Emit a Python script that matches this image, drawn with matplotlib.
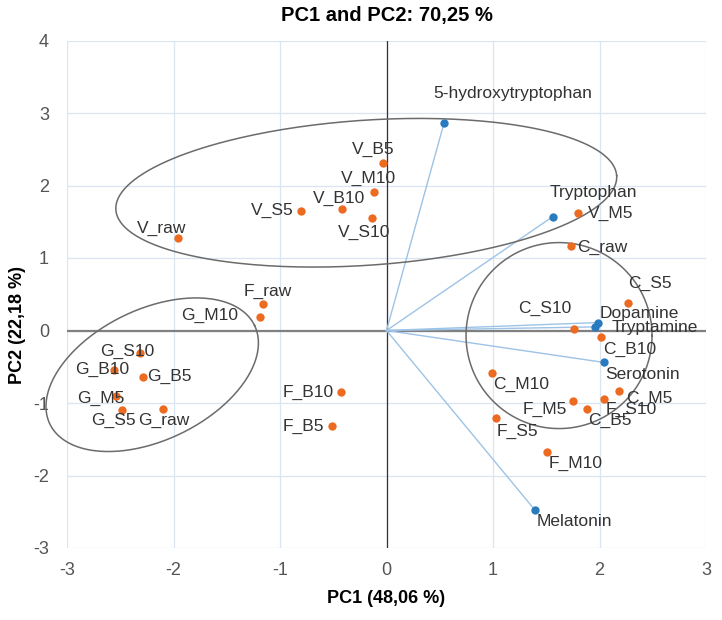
import numpy as np
import matplotlib
matplotlib.use('Agg')
import matplotlib.pyplot as plt

# scores (samples)
samples = ['V_raw', 'V_S5', 'V_B10', 'V_M10', 'V_S10', 'V_B5', 'V_M5',
           'F_raw', 'G_M10', 'G_S10', 'G_B10', 'G_B5', 'G_M5', 'G_S5', 'G_raw',
           'F_B10', 'F_B5',
           'C_raw', 'C_S5', 'C_S10', 'C_B10', 'C_M10', 'C_M5', 'F_S10',
           'F_M5', 'C_B5', 'F_S5', 'F_M10']
pc1_s = [-1.96, -0.80, -0.42, -0.12, -0.14, -0.03, 1.80,
         -1.16, -1.19, -2.31, -2.56, -2.29, -2.54, -2.48, -2.10,
         -0.43, -0.51,
         1.73, 2.27, 1.76, 2.01, 0.99, 2.18, 2.04,
         1.75, 1.88, 1.03, 1.51]
pc2_s = [1.27, 1.65, 1.67, 1.91, 1.55, 2.31, 1.62,
         0.37, 0.18, -0.31, -0.54, -0.64, -0.91, -1.09, -1.08,
         -0.85, -1.32,
         1.16, 0.38, 0.02, -0.09, -0.58, -0.84, -0.94,
         -0.97, -1.08, -1.21, -1.68]

# loadings (compounds)
compounds = ['5-hydroxytryptophan', 'Tryptophan', 'Dopamine', 'Tryptamine',
             'Serotonin', 'Melatonin']
pc1_l = [0.54, 1.56, 1.99, 1.96, 2.04, 1.39]
pc2_l = [2.86, 1.57, 0.11, 0.05, -0.44, -2.47]

# label offsets in pixels (dx, dy), text centred
off_s = {'V_raw': (-16, 10), 'V_S5': (-29, 0), 'V_B10': (-3, 11), 'V_M10': (-5, 14),
         'V_S10': (-7, -14), 'V_B5': (-10, 14), 'V_M5': (32, 0),
         'F_raw': (5, 12), 'G_M10': (-50, 2), 'G_S10': (-13, 2), 'G_B10': (-12, 0),
         'G_B5': (27, 0), 'G_M5': (-15, -2), 'G_S5': (-9, -11), 'G_raw': (1, -12),
         'F_B10': (-33, 0), 'F_B5': (-29, 0),
         'C_raw': (32, -1), 'C_S5': (22, 20), 'C_S10': (-29, 21), 'C_B10': (29, -12),
         'C_M10': (29, -12), 'C_M5': (31, -7), 'F_S10': (27, -11),
         'F_M5': (-28, -9), 'C_B5': (23, -12), 'F_S5': (21, -13), 'F_M10': (28, -11)}
off_l = {'5-hydroxytryptophan': (69, 30), 'Tryptophan': (41, 24), 'Dopamine': (41, 9),
         'Tryptamine': (60, -1), 'Serotonin': (39, -12), 'Melatonin': (40, -12)}

# group ellipses: centre (data), semi axes (px), angle (deg)
ellipses = [(-0.19, 1.90, 251, 72.5, 3.9),
            (-2.20, -0.61, 113.6, 65.4, 25.7),
            (1.62, -0.07, 93, 93, 0)]

plt.rcParams['font.family'] = ['Liberation Sans', 'DejaVu Sans']
plt.rcParams['axes.unicode_minus'] = False

W, H = 722, 620
fig = plt.figure(figsize=(W / 100, H / 100), dpi=100)
ax = fig.add_axes([67 / W, (H - 548) / H, 639 / W, 507.5 / H])
ax.set_xlim(-3, 3)
ax.set_ylim(-3, 4)
ax.set_xticks(range(-3, 4))
ax.set_yticks(range(-3, 5))
ax.grid(color='#dae5f1', lw=0.9)
ax.set_axisbelow(True)
for s in ax.spines.values():
    s.set_visible(False)
ax.tick_params(length=0, labelsize=13, labelcolor='#555555')
ax.tick_params(axis='x', pad=10)
ax.tick_params(axis='y', pad=13)
ax.axhline(0, color='#808080', lw=1.6, zorder=1)
ax.axvline(0, color='#333333', lw=0.9, zorder=1)

# loading vectors
for x, y in zip(pc1_l, pc2_l):
    ax.plot([0, x], [0, y], color='#9dc3e6', lw=1.0, zorder=2)

# ellipses
sx = 639 / 6.0
sy = 507.5 / 7.0
t = np.linspace(0, 2 * np.pi, 300)
for cx, cy, a, b, ang in ellipses:
    al = np.radians(ang)
    dx = a * np.cos(t) * np.cos(al) - b * np.sin(t) * np.sin(al)
    dy = a * np.cos(t) * np.sin(al) + b * np.sin(t) * np.cos(al)
    ax.plot(cx + dx / sx, cy + dy / sy, color='#6b6b6b', lw=1.1, zorder=3, clip_on=False)

ax.plot(pc1_s, pc2_s, 'o', color='#ed6b21', ms=6, mec='none', zorder=4)
ax.plot(pc1_l, pc2_l, 'o', color='#2a7ac0', ms=6, mec='none', zorder=4)

for name, x, y in zip(samples, pc1_s, pc2_s):
    ax.annotate(name, (x, y), xytext=off_s[name], textcoords='offset pixels',
                ha='center', va='center', fontsize=12.5, color='#333333', zorder=5)
for name, x, y in zip(compounds, pc1_l, pc2_l):
    ax.annotate(name, (x, y), xytext=off_l[name], textcoords='offset pixels',
                ha='center', va='center', fontsize=12.5, color='#333333', zorder=5)

fig.text(386.5 / W, 1 - 15 / H, 'PC1 and PC2: 70,25 %', ha='center', va='center',
         fontsize=14.5, fontweight='bold')
ax.set_xlabel('PC1 (48,06 %)', fontsize=13, fontweight='bold')
ax.set_ylabel('PC2 (22,18 %)', fontsize=13, fontweight='bold')
ax.xaxis.set_label_coords(0.5, -0.10)
ax.yaxis.set_label_coords(-0.078, 0.44)
ax.xaxis.label.set_va('center')
ax.yaxis.label.set_va('center')

fig.savefig('out.png', dpi=100)
